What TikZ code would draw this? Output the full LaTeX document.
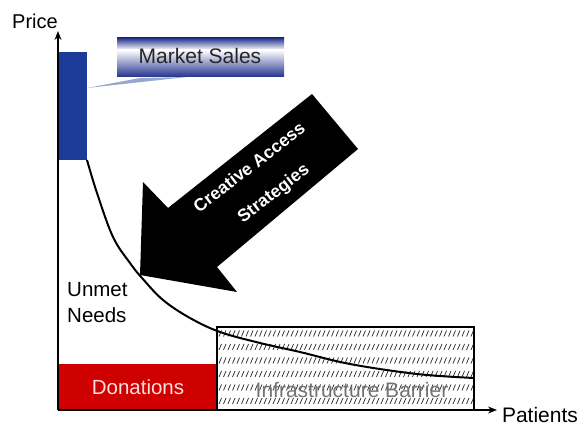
\documentclass[tikz,border=0pt]{standalone}
\usepackage{fontspec}
\setmainfont{Liberation Sans}
\usetikzlibrary{arrows.meta}
\definecolor{barblue}{RGB}{28,58,152}
\definecolor{mblue}{RGB}{36,50,142}
\definecolor{wedgeblue}{RGB}{150,168,205}
\definecolor{dred}{RGB}{206,0,0}
\definecolor{pinkw}{RGB}{255,222,222}
\tikzset{
  axis/.style={line width=1.4pt,-{Stealth[length=9pt,width=7pt]}},
  lbl/.style={inner sep=0pt,font=\fontsize{20.5}{26}\selectfont},
  arrtxt/.style={inner sep=0pt,text=white,rotate=37.5,font=\fontsize{17.5}{20}\selectfont\bfseries},
  hatchline/.style={line width=0.7pt,black!85},
  curve/.style={line width=2pt},
}
\begin{document}
\begin{tikzpicture}[x=1pt,y=-1pt]
\useasboundingbox (0,0) rectangle (582,425);
% coordinates
\coordinate (O) at (58,410);
\coordinate (ytip) at (58,31);
\coordinate (xtip) at (497,410);
% blue bar (market sales)
\fill[barblue] (58,52) rectangle (87,160);
% market sales box
\shade[top color=mblue,bottom color=white] (117,38) rectangle (284,50);
\shade[top color=white,bottom color=mblue] (117,50) rectangle (284,77);
\node[lbl,font=\fontsize{21}{25}\selectfont,text=black!85] (ms) at (200,56) {Market Sales};
\fill[wedgeblue] (87,88) -- (140,78) -- (187,77) -- cycle;
% donations
\fill[dred] (58,364) rectangle (217,410);
\node[lbl,text=pinkw] (don) at (138,387) {Donations};
% infrastructure barrier hatch
\begin{scope}
\clip (217,327) rectangle (474,410);
\foreach \r in {0,...,5}{
  \foreach \c in {0,...,58}{
    \draw[hatchline] ({219+4.5*\c},{336.5+13.5*\r}) -- ({221.5+4.5*\c},{330.5+13.5*\r});
  }
}
\end{scope}
\node[lbl,font=\fontsize{21}{25}\selectfont,text=black!55] (ib) at (352,390) {Infrastructure Barrier};
% demand curve
\draw[curve] plot[smooth,tension=0.6] coordinates {(87,160) (97,193) (113,237) (130,263) (142,278) (163,300) (190,318) (220,332) (260,343) (300,352) (350,364) (417,374) (474,378)};
\draw[line width=1.3pt] (217,327) rectangle (474,410);
% unmet needs
\node[lbl,anchor=west,align=left] (un) at (67,303) {Unmet\\Needs};
% axes
\draw[axis] (O) -- (ytip);
\draw[axis] (O) -- (xtip);
\node[lbl,font=\fontsize{20}{24}\selectfont] (price) at (35,21) {Price};
\node[lbl,font=\fontsize{21}{25}\selectfont] (pat) at (540,415) {Patients};
% creative access arrow
\fill[black] (312,94) -- (358,149) -- (217,267) -- (237,292) -- (140,275) -- (143,182) -- (168,208) -- cycle;
\node[arrtxt] (ca1) at (249,167) {Creative Access};
\node[arrtxt] (ca2) at (274,194) {Strategies};
\end{tikzpicture}
\end{document}
